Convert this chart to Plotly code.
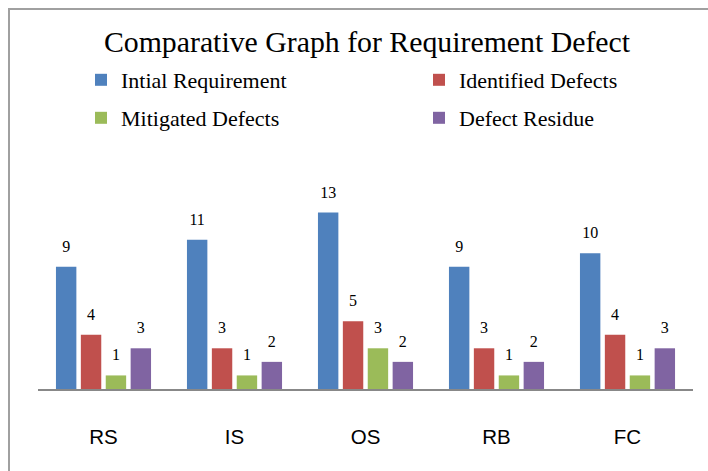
import plotly.graph_objects as go

categories = ["RS", "IS", "OS", "RB", "FC"]
initial_requirement = [9, 11, 13, 9, 10]
identified_defects = [4, 3, 5, 3, 4]
mitigated_defects = [1, 1, 3, 1, 1]
defect_residue = [3, 2, 2, 2, 3]

series = [
    ("Intial Requirement", initial_requirement, "#4F81BD", "legend"),
    ("Identified Defects", identified_defects, "#C0504D", "legend2"),
    ("Mitigated Defects", mitigated_defects, "#9BBB59", "legend3"),
    ("Defect Residue", defect_residue, "#8064A2", "legend4"),
]

fig = go.Figure()
for i, (name, vals, color, lg) in enumerate(series):
    fig.add_trace(go.Bar(
        x=categories, y=vals, name=name, marker_color=color,
        marker_line_width=0, offsetgroup=str(i), legend=lg,
    ))
for i, (name, vals, color, lg) in enumerate(series):
    fig.add_trace(go.Scatter(
        x=categories, y=vals, mode="markers+text", text=vals,
        textposition="top center", offsetgroup=str(i),
        marker=dict(size=16, opacity=0, color=color),
        textfont=dict(family="Liberation Serif", size=16, color="#000000"),
        showlegend=False, cliponaxis=False, hoverinfo="skip",
    ))

W, H = 708, 471
L, R, T, B = 38, 15, 199, 82
pw = W - L - R
ph = H - T - B

def px_x(x):
    return (x - L) / pw

def px_y(y):
    return (H - B - y) / ph

legend_font = dict(family="Liberation Serif", size=22, color="#000000")
def make_legend(xpx, ypx):
    return dict(orientation="h", x=xpx / W, y=1 - ypx / H, xref="container", yref="container",
                xanchor="left", yanchor="middle", font=legend_font,
                bgcolor="rgba(0,0,0,0)", borderwidth=0)

fig.update_layout(
    width=W, height=H,
    margin=dict(l=L, r=R, t=T, b=B),
    paper_bgcolor="white", plot_bgcolor="white",
    barmode="group", bargap=0.24, bargroupgap=0.18,
    scattermode="group", scattergap=0.24,
    title=dict(text="Comparative Graph for Requirement Defect",
               font=dict(family="Liberation Serif", size=29.8, color="#000000"),
               x=367 / W, xanchor="center", y=1 - 42 / H, yanchor="middle",
               xref="container", yref="container"),
    font=dict(family="Liberation Serif", color="#000000"),
    legend=make_legend(81, 80),
    legend2=make_legend(419, 80),
    legend3=make_legend(81, 118),
    legend4=make_legend(419, 118),
    xaxis=dict(showline=True, linecolor="#888888", linewidth=2, showgrid=False,
               ticks="outside", ticklen=28, tickcolor="rgba(0,0,0,0)",
               tickfont=dict(family="Liberation Sans", size=20.5, color="#000000")),
    yaxis=dict(range=[0, 14], visible=False, showgrid=False),
    shapes=[dict(type="rect", xref="paper", yref="paper",
                 x0=px_x(9), x1=px_x(720), y0=px_y(9), y1=px_y(500),
                 line=dict(color="#A0A0A0", width=2), fillcolor="rgba(0,0,0,0)",
                 layer="below")],
)

fig.write_html("out.html", config={"displayModeBar": False},
               post_script="document.body.style.margin='0';")
